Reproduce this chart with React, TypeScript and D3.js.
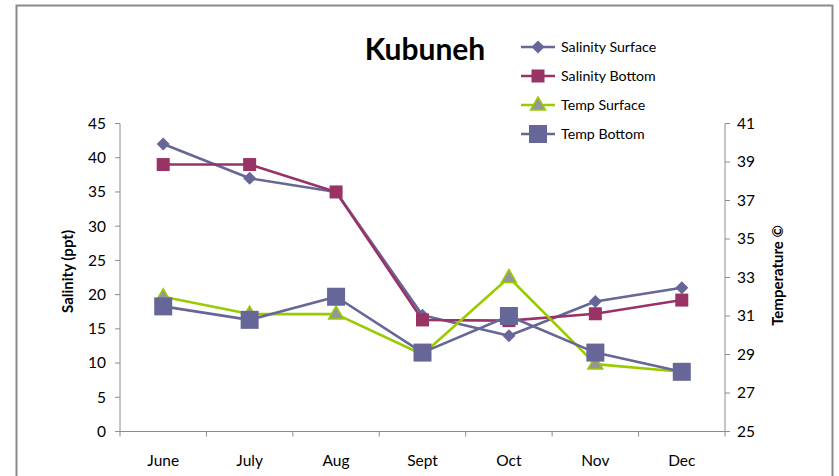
import * as d3 from 'd3';

// --- data ---
const months = ['June', 'July', 'Aug', 'Sept', 'Oct', 'Nov', 'Dec'];
const salinitySurface = [42, 37, 35, 17, 14, 19, 21];
const salinityBottom = [39, 39, 35, 16.3, 16.2, 17.2, 19.2];
const tempSurface = [32, 31.1, 31.1, 29, 33, 28.5, 28.1];
const tempBottom = [31.5, 30.8, 32, 29.1, 31, 29.1, 28.1];
const salTicks = [0, 5, 10, 15, 20, 25, 30, 35, 40, 45];
const tempTicks = [25, 27, 29, 31, 33, 35, 37, 39, 41];

const FONT = 'Lato, "Open Sans", sans-serif';
const AXIS = '#8c8c8c';
const PURPLE = '#666699';
const MAROON = '#993366';
const GREEN = '#99cc00';

const left = 120;
const right = 725;
const top = 123.5;
const bottom = 431.5;

type Series = { name: string; values: number[]; axis: 'sal' | 'temp'; color: string; marker: string };

const series: Series[] = [
  { name: 'Salinity Surface', values: salinitySurface, axis: 'sal', color: PURPLE, marker: 'diamond' },
  { name: 'Salinity Bottom', values: salinityBottom, axis: 'sal', color: MAROON, marker: 'square' },
  { name: 'Temp Surface', values: tempSurface, axis: 'temp', color: GREEN, marker: 'triangle' },
  { name: 'Temp Bottom', values: tempBottom, axis: 'temp', color: PURPLE, marker: 'bigsquare' },
];

function Marker({ kind, x, y, color }: { kind: string; x: number; y: number; color: string }) {
  if (kind === 'diamond') {
    const r = 6.5;
    return <path d={`M${x},${y - r}L${x + r},${y}L${x},${y + r}L${x - r},${y}Z`} fill={color} />;
  }
  if (kind === 'square') {
    return <rect x={x - 6.5} y={y - 6.5} width={13} height={13} fill={color} />;
  }
  if (kind === 'bigsquare') {
    return <rect x={x - 9} y={y - 9} width={18} height={18} fill={color} />;
  }
  // triangle: gray fill with green outline
  const h = 13;
  return (
    <path
      d={`M${x},${y - h * 0.62}L${x + 7.5},${y + h * 0.38}L${x - 7.5},${y + h * 0.38}Z`}
      fill="#969696"
      stroke={GREEN}
      strokeWidth={1.5}
    />
  );
}

export default function App() {
  const x = d3.scaleBand().domain(months).range([left, right]);
  const ySal = d3.scaleLinear().domain([0, 45]).range([bottom, top]);
  const yTemp = d3.scaleLinear().domain([25, 41]).range([bottom, top]);
  const cx = (m: string) => (x(m) as number) + x.bandwidth() / 2;

  const bounds = [...months.map((m) => x(m) as number), right];

  return (
    <svg
      width={839}
      height={476}
      style={{ position: 'absolute', left: 0, top: 0, background: '#fff' }}
      fontFamily={FONT}
    >
      {/* chart frame */}
      <path d="M16.5,480V5.5H832.5V480" fill="none" stroke="#8a8a8a" strokeWidth={2} />

      {/* title */}
      <text x={425} y={60} textAnchor="middle" fontSize={30} fontWeight="bold" fill="#000">
        Kubuneh
      </text>

      {/* left axis */}
      <line x1={left} x2={left} y1={top} y2={bottom} stroke={AXIS} />
      {salTicks.map((t) => (
        <g key={'s' + t}>
          <line x1={left - 5} x2={left} y1={ySal(t)} y2={ySal(t)} stroke={AXIS} />
          <text x={left - 14} y={ySal(t)} dy="0.35em" textAnchor="end" fontSize={15.5} fill="#000">
            {t}
          </text>
        </g>
      ))}
      <text
        transform={`translate(73,${(top + bottom) / 2 - 6}) rotate(-90)`}
        textAnchor="middle"
        fontSize={15}
        fontWeight="bold"
      >
        Salinity (ppt)
      </text>

      {/* right axis */}
      <line x1={right} x2={right} y1={top} y2={bottom} stroke={AXIS} />
      {tempTicks.map((t) => (
        <g key={'t' + t}>
          <line x1={right} x2={right + 5} y1={yTemp(t)} y2={yTemp(t)} stroke={AXIS} />
          <text x={right + 12} y={yTemp(t)} dy="0.35em" textAnchor="start" fontSize={15.5} fill="#000">
            {t}
          </text>
        </g>
      ))}
      <text
        transform={`translate(783,${(top + bottom) / 2 - 2}) rotate(-90)`}
        textAnchor="middle"
        fontSize={15}
        fontWeight="bold"
      >
        Temperature ©
      </text>

      {/* x axis */}
      <line x1={left - 5} x2={right + 5} y1={bottom} y2={bottom} stroke={AXIS} />
      {bounds.map((b, i) => (
        <line key={'b' + i} x1={b} x2={b} y1={bottom} y2={bottom + 5} stroke={AXIS} />
      ))}
      {months.map((m) => (
        <text key={m} x={cx(m)} y={466} textAnchor="middle" fontSize={15.5} fill="#000">
          {m}
        </text>
      ))}

      {/* series */}
      {series.map((s) => {
        const yScale = s.axis === 'sal' ? ySal : yTemp;
        const line = d3
          .line<number>()
          .x((_, i) => cx(months[i]))
          .y((v) => yScale(v));
        return (
          <g key={s.name}>
            <path d={line(s.values) || ''} fill="none" stroke={s.color} strokeWidth={2.6} strokeLinejoin="round" />
            {s.values.map((v, i) => (
              <Marker key={i} kind={s.marker} x={cx(months[i])} y={yScale(v)} color={s.color} />
            ))}
          </g>
        );
      })}

      {/* legend */}
      {series.map((s, i) => {
        const ly = 47 + i * 29;
        return (
          <g key={'lg' + s.name}>
            <line x1={521} x2={555} y1={ly} y2={ly} stroke={s.color} strokeWidth={2.6} />
            <Marker kind={s.marker} x={538} y={ly} color={s.color} />
            <text x={561} y={ly} dy="0.35em" fontSize={14.2} fill="#000">
              {s.name}
            </text>
          </g>
        );
      })}
    </svg>
  );
}
